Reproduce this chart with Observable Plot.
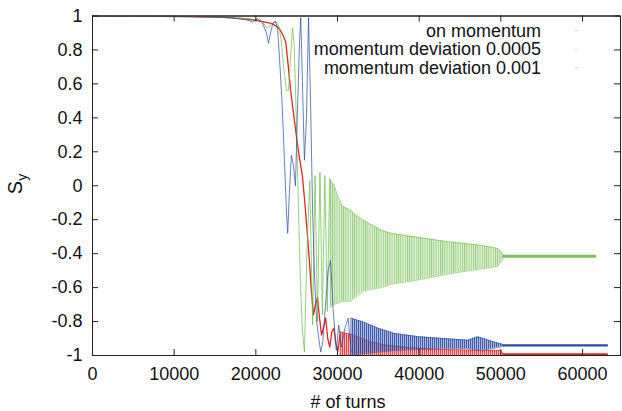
<!DOCTYPE html>
<html><head><meta charset="utf-8">
<script src="https://cdn.jsdelivr.net/npm/d3@7"></script>
<script src="https://cdn.jsdelivr.net/npm/@observablehq/plot@0.6"></script>
<style>
body{margin:0;background:#fff;}
svg{display:block;font-family:"Liberation Sans",Arial,Helvetica,sans-serif;}
</style>
</head><body><div id="chart"></div>
<script>
// ---- axes ----
const xTicks = [0, 10000, 20000, 30000, 40000, 50000, 60000];
const yTicks = [-1, -0.8, -0.6, -0.4, -0.2, 0, 0.2, 0.4, 0.6, 0.8, 1];
const xDomain = [0, 64650];
const yDomain = [-1, 1];
const xLabel = "# of turns";
const yLabelMain = "S", yLabelSub = "y";

// ---- series ----
const seriesNames = ["on momentum", "momentum deviation 0.0005", "momentum deviation 0.001"];
const seriesColors = ["#e8231c", "#6cbd4a", "#2c4ea6"];

// on momentum: [turn, Sy]
const redTrace = [[0,1.0],[4000,0.999],[8000,0.998],[12000,0.996],[16000,0.992],[18500,0.985],[20000,0.975],[21000,0.965],[22000,0.955],[22800,0.93],[23300,0.89],[23650,0.85],[23900,0.74],[24240,0.57],[24600,0.43],[25000,0.28],[25350,0.16],[25700,0.06],[26000,-0.1],[26300,-0.28],[26570,-0.45],[26800,-0.62],[27060,-0.76],[27300,-0.7],[27550,-0.66],[27800,-0.78],[28050,-0.88],[28300,-0.83],[28550,-0.78],[28800,-0.9],[29050,-0.95],[29300,-0.86],[29550,-0.84],[29800,-0.93],[30050,-0.97],[30300,-0.88]];
// dense part: [turn, low, high]
const redBand = [[30300,-1.0,-0.86],[32000,-1.0,-0.88],[34000,-1.0,-0.92],[36000,-1.0,-0.94],[39000,-1.0,-0.955],[43000,-1.0,-0.965],[47000,-1.0,-0.97],[50000,-1.0,-0.97],[50300,-0.996,-0.99]];
const redTail = [[50300,-0.993],[63000,-0.993]];

// momentum deviation 0.0005
const greenTrace = [[0,1.0],[5000,0.999],[10000,0.997],[15000,0.993],[19000,0.985],[20500,0.975],[21000,0.955],[21300,0.93],[21700,0.94],[22100,0.96],[22500,0.965],[22800,0.94],[23100,0.86],[23400,0.7],[23750,0.56],[24000,0.56],[24250,0.76],[24500,0.93],[24700,0.82],[24950,0.4],[25200,-0.1],[25450,-0.55],[25700,-0.85],[25950,-0.98],[26250,-0.4],[26600,0.03],[26950,-0.82],[27250,0.06],[27550,-0.8],[27850,0.08],[28150,-0.76],[28450,0.06],[28750,-0.74],[29050,0.04]];
const greenBand = [[29050,-0.72,0.04],[29600,-0.7,0.0],[30100,-0.69,-0.07],[30600,-0.68,-0.12],[31600,-0.68,-0.145],[32400,-0.65,-0.18],[33200,-0.62,-0.205],[34200,-0.61,-0.23],[35300,-0.6,-0.26],[36500,-0.58,-0.28],[39300,-0.56,-0.3],[43500,-0.52,-0.33],[47500,-0.49,-0.35],[49600,-0.475,-0.37],[50300,-0.43,-0.405]];
const greenTail = [[50300,-0.415],[61500,-0.415]];

// momentum deviation 0.001
const blueTrace = [[0,1.0],[5000,0.999],[10000,0.997],[14000,0.995],[17000,0.99],[19000,0.975],[19600,0.965],[20200,0.985],[20800,0.96],[21300,0.9],[21550,0.84],[21800,0.9],[22100,0.96],[22400,0.97],[22650,0.93],[22900,0.75],[23200,0.5],[23500,0.15],[23750,-0.15],[23900,-0.28],[24100,-0.05],[24350,0.18],[24600,0.12],[24850,0.0],[25100,0.45],[25350,0.85],[25500,0.99],[25700,0.62],[25950,0.15],[26200,0.4],[26450,0.99],[26700,0.5],[26950,-0.15],[27200,-0.55],[27450,-0.8],[27700,-0.9],[27950,-0.98],[28200,-0.92],[28500,-0.72],[28850,-0.5],[29150,-0.44],[29450,-0.72],[29850,-0.97],[30150,-0.82],[30500,-0.95],[30900,-0.84],[31300,-0.78],[31650,-0.98]];
const blueBand = [[31650,-1.0,-0.78],[33000,-0.99,-0.8],[35000,-0.98,-0.84],[37000,-0.97,-0.87],[40000,-0.965,-0.89],[43000,-0.96,-0.9],[46000,-0.96,-0.91],[47200,-0.97,-0.89],[48500,-0.965,-0.91],[49500,-0.955,-0.925],[50300,-0.945,-0.935]];
const blueTail = [[50300,-0.94],[63000,-0.94]];

// ---- layout ----
const W = 622, H = 411, mL = 92, mR = 2, mT = 15.5, mB = 56;
const innerW = W - mL - mR, innerH = H - mT - mB;
const hatchIds = ["hatchRed", "hatchGreen", "hatchBlue"];

const band = (data, i) => Plot.areaY(data, {x: d => d[0], y1: d => d[1], y2: d => d[2], fill: `url(#${hatchIds[i]})`, clip: true});
const bandEdge = (data, idx, color) => Plot.line(data, {x: d => d[0], y: d => d[idx], stroke: color, strokeWidth: 0.8, strokeOpacity: 0.75, clip: true});
const trace = (data, color, w, op) => Plot.line(data, {x: d => d[0], y: d => d[1], stroke: color, strokeWidth: w, strokeOpacity: op, clip: true});

const plot = Plot.plot({
  width: W, height: H,
  marginLeft: mL, marginRight: mR, marginTop: mT, marginBottom: mB,
  style: {fontFamily: "Liberation Sans, Arial, Helvetica, sans-serif", fontSize: "18px", background: "white", color: "#111", overflow: "visible"},
  x: {domain: xDomain},
  y: {domain: yDomain},
  marks: [
    Plot.axisX({ticks: xTicks, tickSize: 0, tickPadding: 12, tickFormat: d3.format("d"), fontSize: 18, label: null}),
    Plot.axisY({ticks: yTicks, tickSize: 0, tickPadding: 10, tickFormat: d => String(d), fontSize: 18, label: null}),
    Plot.ruleY([yDomain[1]], {stroke: "#8a8a8a", strokeWidth: 2.2}),
    // red
    band(redBand, 0),
    bandEdge(redBand, 2, seriesColors[0]),
    trace(redTrace, seriesColors[0], 1.3, 1),
    trace(redTail, seriesColors[0], 2, 1),
    // green
    band(greenBand, 1),
    bandEdge(greenBand, 1, seriesColors[1]),
    bandEdge(greenBand, 2, seriesColors[1]),
    trace(greenTrace, seriesColors[1], 0.9, 0.8),
    trace(greenTail, seriesColors[1], 3, 0.9),
    // blue
    band(blueBand, 2),
    bandEdge(blueBand, 1, seriesColors[2]),
    bandEdge(blueBand, 2, seriesColors[2]),
    trace(blueTrace, seriesColors[2], 0.9, 0.8),
    trace(blueTail, seriesColors[2], 2.2, 1),
    // inward ticks on all four sides
    Plot.tickX(xTicks, {x: d => d, insetTop: innerH - 6, stroke: "#222"}),
    Plot.tickX(xTicks, {x: d => d, insetBottom: innerH - 6, stroke: "#222"}),
    Plot.tickY(yTicks, {y: d => d, insetRight: innerW - 6, stroke: "#222"}),
    Plot.tickY(yTicks, {y: d => d, insetLeft: innerW - 6, stroke: "#222"}),
    Plot.frame({stroke: "#222", strokeWidth: 1})
  ]
});

const svg = d3.select(plot);
// vertical hatch patterns imitating dense oscillation strands
const defs = svg.insert("defs", ":first-child");
const hatchSpec = [[2.0, 1.0, 0.8, 0.3], [2.2, 0.9, 0.7, 0.2], [2.0, 1.0, 0.85, 0.4]];
hatchIds.forEach((id, i) => {
  const [w, sw, op, base] = hatchSpec[i];
  const p = defs.append("pattern").attr("id", id).attr("patternUnits", "userSpaceOnUse")
    .attr("width", w).attr("height", 8);
  p.append("rect").attr("width", w).attr("height", 8).attr("fill", seriesColors[i]).attr("fill-opacity", base);
  p.append("rect").attr("width", sw).attr("height", 8).attr("fill", seriesColors[i]).attr("fill-opacity", op);
});
// x label
svg.append("text").attr("x", 348).attr("y", 408).attr("text-anchor", "middle")
  .attr("font-size", 18).attr("fill", "#111").text(xLabel);
// y label with subscript
const yl = svg.append("text").attr("transform", "translate(22,184) rotate(-90)")
  .attr("text-anchor", "middle").attr("font-size", 20).attr("fill", "#111");
yl.append("tspan").text(yLabelMain);
yl.append("tspan").attr("font-size", 14).attr("dy", 5).text(yLabelSub);
// legend (text right-aligned, tiny samples)
const legY = [36.5, 55, 73.5];
seriesNames.forEach((name, i) => {
  svg.append("text").attr("x", 541).attr("y", legY[i]).attr("text-anchor", "end")
    .attr("font-size", 18).attr("fill", "#111").text(name);
  svg.append("line").attr("x1", 575).attr("x2", 578).attr("y1", legY[i] - 6).attr("y2", legY[i] - 6)
    .attr("stroke", seriesColors[i]).attr("stroke-opacity", 0.25).attr("stroke-width", 1);
});
document.getElementById("chart").appendChild(plot);
</script>
</body></html>
